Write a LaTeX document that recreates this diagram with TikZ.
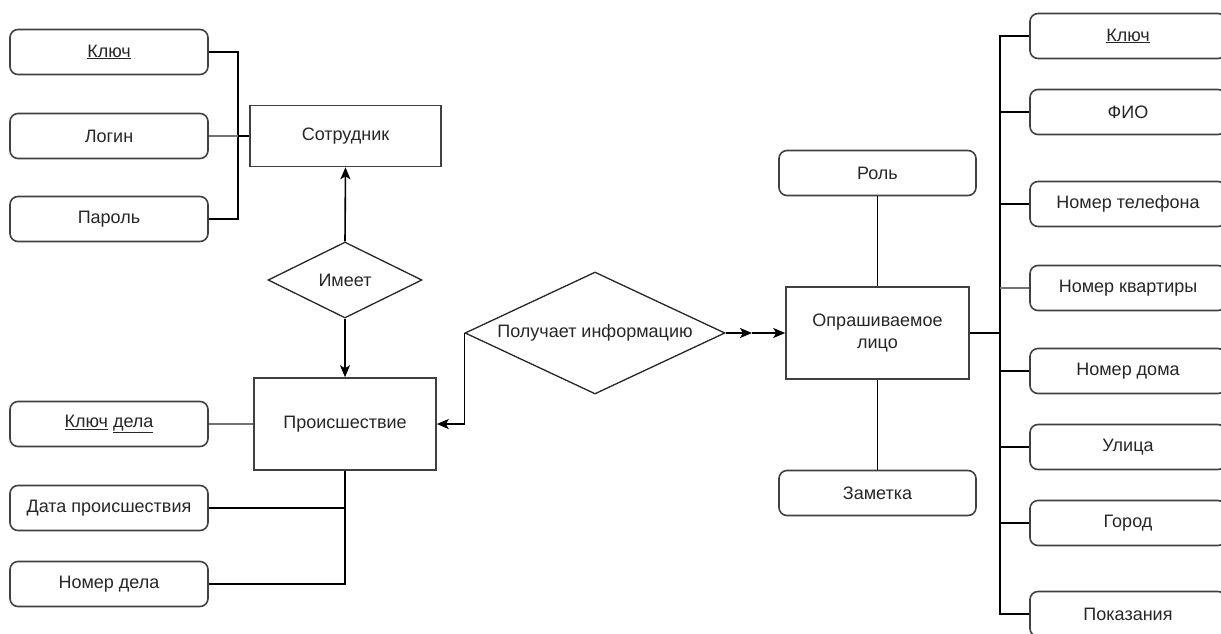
\documentclass[tikz,border=0pt]{standalone}
\usepackage{fontspec}
\setmainfont{Liberation Sans}
\usetikzlibrary{shapes.geometric,arrows.meta}
\begin{document}
\begin{tikzpicture}[x=1pt,y=-1pt,
  every node/.style={font=\fontsize{18}{22}\selectfont, text=black!85},
  attr/.style={draw=black!75, line width=1.6pt, rounded corners=8pt, minimum width=198pt, minimum height=45pt, inner sep=0pt},
  ent/.style={draw=black!75, line width=1.6pt, inner sep=0pt},
  rel/.style={draw=black!85, line width=1.3pt, diamond, inner sep=0pt},
  conn/.style={draw=black, line width=1.6pt},
  gconn/.style={draw=black!55, line width=1.8pt},
  arr/.style={conn, -{Stealth[length=12pt,width=10pt,inset=3pt]}}
]
\useasboundingbox (0,0) rectangle (1221,633);
\clip (0,0) rectangle (1221,633);
% left top
\node[attr] (k1) at (109,52) {\underline{Ключ}};
\node[attr] (login) at (109,136) {Логин};
\node[attr] (pass) at (109,219) {Пароль};
\node[ent, minimum width=191pt, minimum height=61pt] (emp) at (345.5,136) {Сотрудник};
\coordinate (j1) at (238,136);
\draw[conn] (k1.east) -| (j1) |- (pass.east);
\draw[gconn] (login.east) -- (j1);
\draw[conn] (j1) -- (emp.west);
% has
\node[rel, minimum width=154pt, minimum height=76pt] (has) at (345,280) {};
\node at (has) {Имеет};
\draw[arr] (has.north) -- (emp.south);
% incident
\node[ent, minimum width=182pt, minimum height=92pt] (inc) at (345,424) {Происшествие};
\draw[arr] (has.south) -- (inc.north);
\node[attr] (kd) at (109,424) {\underline{Ключ} \underline{дела}};
\node[attr] (date) at (109,508) {Дата происшествия};
\node[attr] (num) at (109,584) {Номер дела};
\draw[gconn] (kd.east) -- (inc.west);
\draw[conn] (inc.south) |- (num.east);
\draw[conn] (date.east) -- (date.east -| inc.south);
% gets info
\node[rel, minimum width=260pt, minimum height=122pt] (info) at (595,333) {};
\node at (info) {Получает информацию};
\draw[arr] (info.west) |- (inc.east);
% person
\node[ent, minimum width=183pt, minimum height=92pt, align=center] (pers) at (877.5,333) {Опрашиваемое\\лицо};
\coordinate (mid) at (752,333);
\draw[arr] (info.east) -- (mid);
\draw[arr] (mid) -- (pers.west);
\node[attr, minimum width=197pt] (role) at (877.5,173) {Роль};
\node[attr, minimum width=197pt] (note) at (877.5,493) {Заметка};
\draw[conn] (role.south) -- (pers.north);
\draw[conn] (pers.south) -- (note.north);
% right column
\node[attr, minimum width=196pt] (r1) at (1128,36) {\underline{Ключ}};
\node[attr, minimum width=196pt] (r2) at (1128,112) {ФИО};
\node[attr, minimum width=196pt] (r3) at (1128,204) {Номер телефона};
\node[attr, minimum width=196pt] (r4) at (1128,288) {Номер квартиры};
\node[attr, minimum width=196pt] (r5) at (1128,371) {Номер дома};
\node[attr, minimum width=196pt] (r6) at (1128,447) {Улица};
\node[attr, minimum width=196pt] (r7) at (1128,523) {Город};
\node[attr, minimum width=196pt] (r8) at (1128,614) {Показания};
\coordinate (bus) at (1000,333);
\draw[conn, line width=2.2pt] (pers.east) -- (bus);
\draw[conn] (r1.west) -| (bus) |- (r8.west);
\foreach \r in {r2,r3,r5,r6,r7} \draw[conn] (\r.west) -- (\r.west -| bus);
\draw[gconn] (r4.west) -- (r4.west -| bus);
\end{tikzpicture}
\end{document}
